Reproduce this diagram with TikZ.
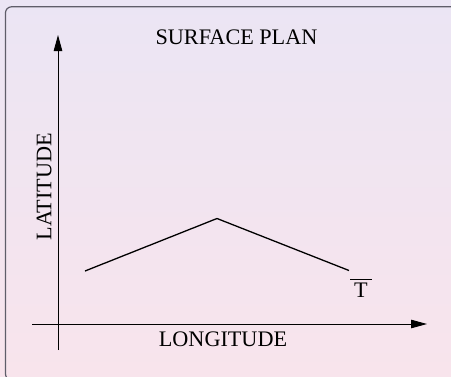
\documentclass[tikz,border=0pt]{standalone}
\usepackage{fontspec}
\setmainfont{Liberation Serif}
\usetikzlibrary{arrows.meta}
\definecolor{bgtop}{RGB}{235,229,244}
\definecolor{bgbot}{RGB}{248,228,236}
\definecolor{framecol}{RGB}{95,93,105}
\tikzset{
  axis/.style={line width=0.9pt, -{Triangle[length=16pt,width=8.5pt]}},
  curve/.style={line width=1.3pt},
  lbl/.style={font=\fontsize{22.2}{24}\selectfont, inner sep=0pt, anchor=base},
}
\begin{document}
\begin{tikzpicture}[x=1pt,y=-1pt]
  \shade[top color=bgtop, bottom color=bgbot] (0,0) rectangle (451,376);
  \useasboundingbox (0,0) rectangle (451,376);
  \begin{scope}
    \clip (0,0) rectangle (451,376);
    \draw[framecol, line width=1.2pt, rounded corners=6pt] (5.5,6.8) rectangle (470,380);
  \end{scope}
  % axes
  \coordinate (ys) at (58,350);
  \coordinate (ye) at (58,35);
  \coordinate (xs) at (32,324);
  \coordinate (xe) at (427,324);
  \draw[axis] (ys) -- (ye);
  \draw[axis] (xs) -- (xe);
  % profile
  \coordinate (p1) at (85,271);
  \coordinate (p2) at (217,218.5);
  \coordinate (p3) at (349,270.5);
  \draw[curve, line join=miter] (p1) -- (p2) -- (p3);
  % labels
  \node[lbl] (title) at (236.5,44) {SURFACE PLAN};
  \node[lbl] (lon) at (223,346) {LONGITUDE};
  \node[lbl, rotate=90] (lat) at (51.5,186.7) {LATITUDE};
  \node[lbl] (T) at (361,297.7) {T};
  \draw[line width=1pt] ([shift={(-11pt,3.6pt)}]T.north) -- ++(22,0);
\end{tikzpicture}
\end{document}
